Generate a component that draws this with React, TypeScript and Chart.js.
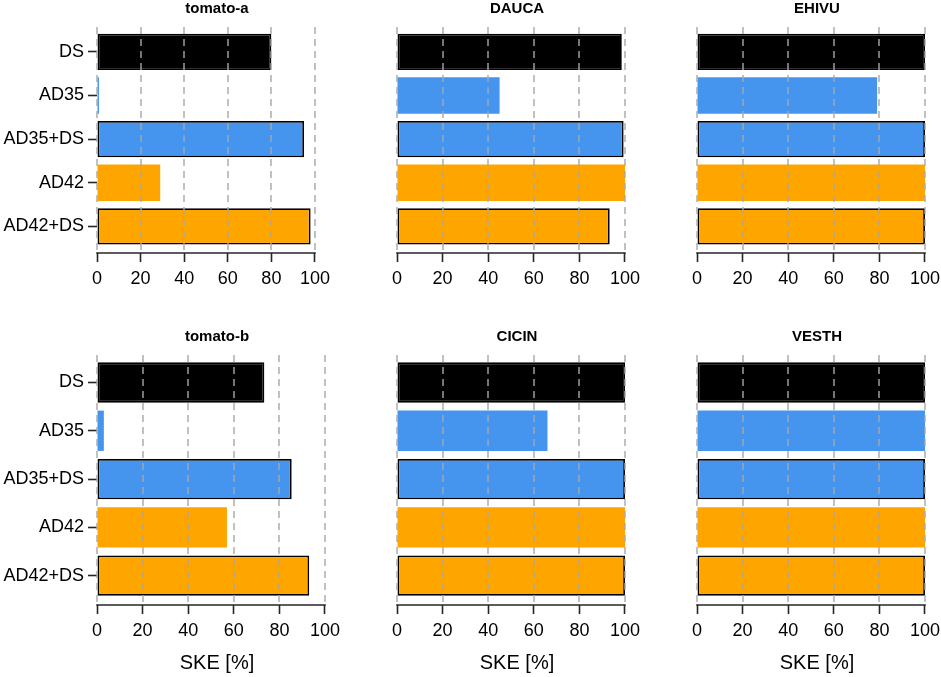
import React, { useRef, useEffect } from 'react';
import { Chart, registerables } from 'chart.js';

Chart.register(...registerables);

const categories = ['DS', 'AD35', 'AD35+DS', 'AD42', 'AD42+DS'];
const xTickValues = [0, 20, 40, 60, 80, 100];

const tomatoA = [80, 0.9, 95, 29, 98];
const dauca = [98.6, 45, 99.4, 100, 93.3];
const ehivu = [100, 79, 100, 100, 100];
const tomatoB = [73.4, 3, 85.4, 57, 93.1];
const cicin = [100, 66, 100, 100, 100];
const vesth = [100, 100, 100, 100, 100];

const BLACK = '#000000';
const BLUE = '#4594ee';
const ORANGE = '#ffa500';
const barColors = [BLACK, BLUE, BLUE, ORANGE, ORANGE];
const barBorders = [1.8, 0, 1.8, 0, 1.8];

const FONT = '"Liberation Sans", Arial, sans-serif';

// dashed grid lines on top of the bars, axis line, title and x label
const overlay = {
  id: 'overlay',
  afterDatasetsDraw(chart: Chart, _args: unknown, opts: { title: string; xLabel?: string }) {
    const { ctx, chartArea } = chart;
    const x = chart.scales.x;
    const cx = (chartArea.left + chartArea.right) / 2 + 6;
    ctx.save();
    ctx.strokeStyle = '#a8a8a8';
    ctx.lineWidth = 1.4;
    ctx.setLineDash([7, 5]);
    for (const v of xTickValues) {
      const px = Math.round(x.getPixelForValue(v));
      ctx.beginPath();
      ctx.moveTo(px, chartArea.top);
      ctx.lineTo(px, chartArea.bottom);
      ctx.stroke();
    }
    ctx.setLineDash([]);
    ctx.strokeStyle = '#262626';
    ctx.lineWidth = 1.6;
    ctx.beginPath();
    ctx.moveTo(Math.round(x.getPixelForValue(0)) - 0.8, chartArea.bottom);
    ctx.lineTo(Math.round(x.getPixelForValue(100)) + 0.8, chartArea.bottom);
    ctx.stroke();

    ctx.fillStyle = '#000';
    ctx.textAlign = 'center';
    ctx.textBaseline = 'middle';
    ctx.font = `bold 15px ${FONT}`;
    ctx.fillText(opts.title, cx, chartArea.top - 18);
    if (opts.xLabel) {
      ctx.font = `20px ${FONT}`;
      ctx.fillText(opts.xLabel, cx, chartArea.bottom + 58);
    }
    ctx.restore();
  },
};

interface PanelProps {
  title: string;
  values: number[];
  col: number;
  row: number;
  xMax?: number;
}

function Panel({ title, values, col, row, xMax = 100 }: PanelProps) {
  const canvasRef = useRef<HTMLCanvasElement>(null);
  const chartRef = useRef<Chart | null>(null);
  const width = 346;
  const height = row === 0 ? 300 : 352;
  const left = col * 300;
  const top = row === 0 ? 0 : 325;
  const showLabels = col === 0;
  const xLabel = row === 1 ? 'SKE [%]' : undefined;

  useEffect(() => {
    const canvas = canvasRef.current;
    if (!canvas) return;
    chartRef.current?.destroy();

    chartRef.current = new Chart(canvas, {
      type: 'bar',
      data: {
        datasets: [{
          data: values.map((v, i) => ({ x: v, y: i })),
          backgroundColor: barColors,
          borderColor: '#000',
          borderWidth: barBorders,
          borderSkipped: false,
          barPercentage: 0.835,
          categoryPercentage: 1,
        }],
      },
      options: {
        indexAxis: 'y',
        animation: false,
        responsive: false,
        layout: { padding: { top: row === 0 ? 27 : 30, right: 21, left: 0, bottom: 0 } },
        plugins: {
          legend: { display: false },
          tooltip: { enabled: false },
          overlay: { title, xLabel },
        } as any,
        scales: {
          x: {
            type: 'linear',
            min: 0,
            max: xMax,
            afterBuildTicks: s => { s.ticks = xTickValues.map(v => ({ value: v })); },
            afterFit: s => { s.height = row === 0 ? 47 : 72; },
            border: { display: false },
            grid: {
              drawOnChartArea: false,
              drawTicks: true,
              tickLength: 9,
              tickColor: '#262626',
              tickWidth: 1.6,
            },
            ticks: {
              padding: 6,
              maxRotation: 0,
              color: '#000',
              font: { family: FONT, size: 18 },
            },
          },
          y: {
            type: 'linear',
            reverse: true,
            offset: false,
            min: -0.57,
            max: 4.61,
            afterBuildTicks: s => { s.ticks = categories.map((_, i) => ({ value: i })); },
            afterFit: s => { s.width = 97; },
            border: { display: false },
            grid: {
              offset: false,
              drawOnChartArea: false,
              drawTicks: showLabels,
              tickLength: 9,
              tickColor: '#262626',
              tickWidth: 1.6,
            },
            ticks: {
              display: showLabels,
              padding: 4,
              color: '#000',
              font: { family: FONT, size: 18 },
              callback: v => categories[Number(v)] ?? '',
            },
          },
        },
      },
      plugins: [overlay],
    });

    return () => {
      chartRef.current?.destroy();
      chartRef.current = null;
    };
  }, [title, values, col, row, xMax]);

  return (
    <canvas
      ref={canvasRef}
      width={width}
      height={height}
      style={{ position: 'absolute', left, top, width, height }}
    />
  );
}

export default function App() {
  return (
    <div style={{ position: 'fixed', left: 0, top: 0, width: 941, height: 677, background: '#fff' }}>
      <Panel title="tomato-a" values={tomatoA} col={0} row={0} xMax={104.6} />
      <Panel title="DAUCA" values={dauca} col={1} row={0} />
      <Panel title="EHIVU" values={ehivu} col={2} row={0} />
      <Panel title="tomato-b" values={tomatoB} col={0} row={1} />
      <Panel title="CICIN" values={cicin} col={1} row={1} />
      <Panel title="VESTH" values={vesth} col={2} row={1} />
    </div>
  );
}
